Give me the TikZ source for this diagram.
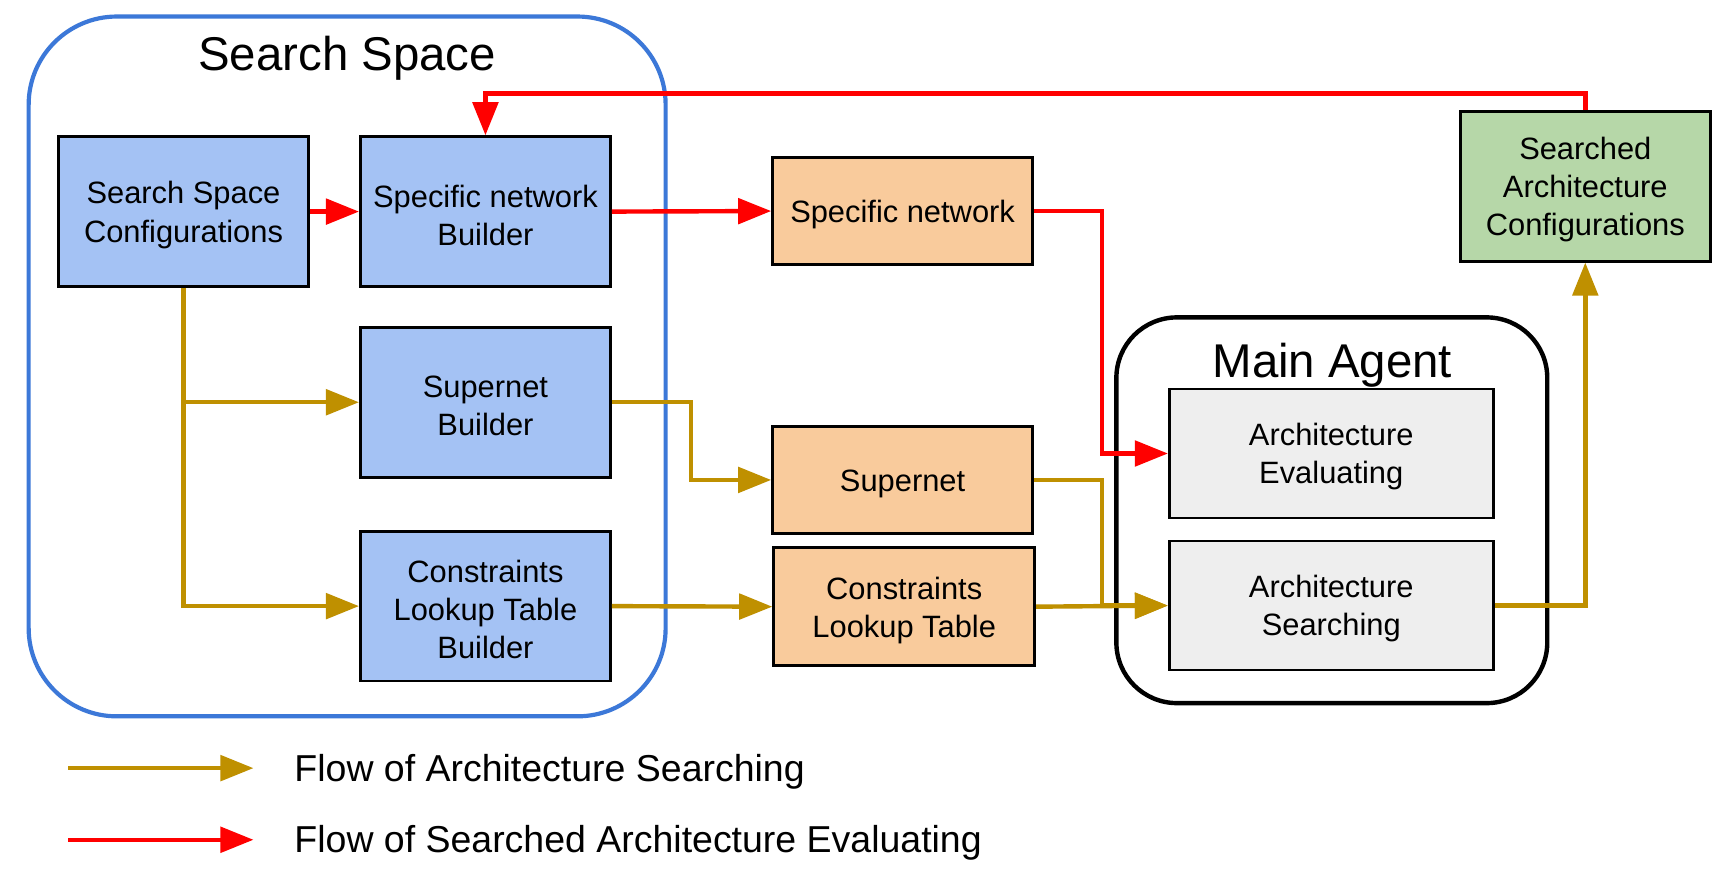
\documentclass[tikz,border=0pt]{standalone}
\usepackage{fontspec}
\setmainfont{Liberation Sans}
\usetikzlibrary{arrows.meta,positioning}
\definecolor{boxblue}{HTML}{A4C2F4}
\definecolor{frameblue}{HTML}{3C78D8}
\definecolor{boxorange}{HTML}{F9CB9C}
\definecolor{boxgreen}{HTML}{B6D7A8}
\definecolor{boxgrey}{HTML}{EEEEEE}
\definecolor{flowgold}{HTML}{BF9000}
\definecolor{flowred}{HTML}{FF0000}
\newcommand\mytopfix{\rule{0pt}{26.5pt}}
\tikzset{
  base/.style={draw=black, line width=2.5pt, align=center, inner sep=0pt,
    font=\fontsize{28}{34.5}\selectfont},
  bluebox/.style={base, fill=boxblue, minimum width=227pt, minimum height=136pt},
  orangebox/.style={base, fill=boxorange, minimum width=236pt, minimum height=97pt},
  greybox/.style={base, fill=boxgrey, minimum width=294pt, minimum height=117pt},
  greenbox/.style={base, fill=boxgreen, minimum width=227pt, minimum height=136pt},
  redflow/.style={draw=flowred, line width=4pt, -{Triangle[length=30pt,width=23pt]}},
  goldflow/.style={draw=flowgold, line width=4pt, -{Triangle[length=30pt,width=23pt]}},
  titletext/.style={font=\fontsize{43}{50}\selectfont, inner sep=0pt},
  legendtext/.style={font=\fontsize{34}{40}\selectfont, inner sep=0pt, anchor=west}
}
\begin{document}
\begin{tikzpicture}[x=1pt,y=-1pt]
\useasboundingbox[fill=white] (0,0) rectangle (1568,790);
% containers
\draw[frameblue, line width=3.8pt, rounded corners=80pt] (26,15) rectangle (604,650);
\draw[black, line width=4pt, rounded corners=55pt] (1013,288) rectangle (1404,638);
\node[titletext] (sstitle) at (315,53) {Search Space};
\node[titletext] (matitle) at (1209,331) {Main Agent};
% boxes
\node[bluebox] (ssc) at (166.5,192) {\mytopfix Search Space\\Configurations};
\node[bluebox] (snb) at (440.5,192) {\mytopfix Specific network\\Builder};
\node[bluebox] (sb) at (440.5,365) {\mytopfix Supernet\\Builder};
\node[bluebox] (cltb) at (440.5,550) {\mytopfix Constraints\\Lookup Table\\Builder};
\node[orangebox] (sn) at (819,191.5) {\mytopfix Specific network};
\node[orangebox] (sup) at (819,435.5) {\mytopfix Supernet};
\node[orangebox, minimum width=237pt, minimum height=107pt] (clt) at (820.5,550.5) {\mytopfix Constraints\\Lookup Table};
\node[greybox] (ae) at (1208,411.5) {\mytopfix Architecture\\Evaluating};
\node[greybox] (as) at (1208,549.5) {\mytopfix Architecture\\Searching};
\node[greenbox] (sac) at (1438.5,169) {\mytopfix Searched\\Architecture\\Configurations};
% red flows
\draw[redflow] (ssc.east) -- (snb.west);
\draw[redflow] (snb.east) -- (sn.west);
\draw[redflow] (sn.east) -- (1000,191.5) |- (ae.west);
\draw[redflow] (sac.north) -- (1438.5,85) -| (snb.north);
% gold flows
\draw[goldflow] (ssc.south) |- (cltb.west);
\draw[goldflow] (ssc.south |- sb.west) -- (sb.west);
\draw[goldflow] (sb.east) -- (627,365) |- (sup.west);
\draw[goldflow] (cltb.east) -- (clt.west);
\draw[goldflow] (sup.east) -- (1000,435.5) |- (as.west);
\draw[goldflow] (clt.east) -- (as.west);
\draw[goldflow] (as.east) -| (sac.south);
% legend
\coordinate (lg1) at (62,697);
\coordinate (lg2) at (230,697);
\coordinate (lr1) at (62,762);
\coordinate (lr2) at (230,762);
\draw[goldflow] (lg1) -- (lg2);
\draw[redflow] (lr1) -- (lr2);
\node[legendtext] (lgt) at (267,700) {Flow of Architecture Searching};
\node[legendtext] (lrt) at (267,765) {Flow of Searched Architecture Evaluating};
\end{tikzpicture}
\end{document}
